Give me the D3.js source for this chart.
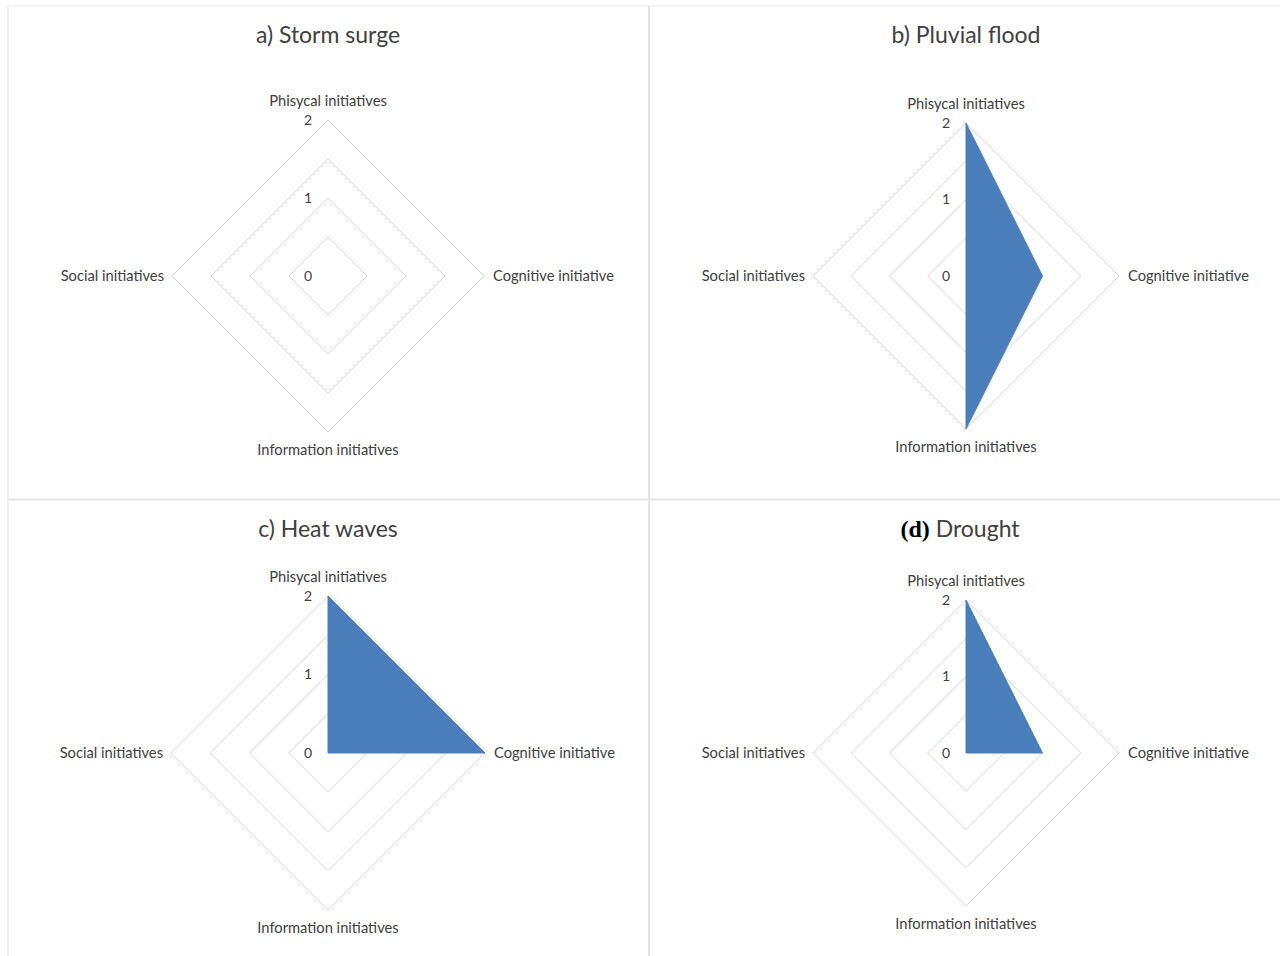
<!DOCTYPE html>
<html>
<head>
<meta charset="utf-8">
<script src="https://cdn.jsdelivr.net/npm/d3@7"></script>
<style>
  html, body { margin: 0; padding: 0; background: #fff; }
  svg { display: block; }
</style>
</head>
<body>
<svg id="chart" width="1280" height="956"></svg>
<script>
// ---- data ----
const categories = ["Phisycal initiatives", "Cognitive initiative", "Information initiatives", "Social initiatives"];
const stormSurge   = [0, 0, 0, 0];
const pluvialFlood = [2, 1, 2, 0];
const heatWaves    = [2, 2, 0, 0];
const drought      = [2, 1, 0, 0];
const gridLevels   = [0.5, 1, 1.5, 2];
const tickLabels   = [0, 1, 2];
const panelTitles  = ["a) Storm surge", "b) Pluvial flood", "c) Heat waves", "(d) Drought"];

// ---- layout ----
const svg = d3.select("#chart");
const font = "Lato, 'Open Sans', sans-serif";
const textColor = "#404040";
const fillColor = "#4a7ebb";

const panels = [
  { title: panelTitles[0], values: stormSurge,   cx: 328, cy: 276, r: 156, titleY: 35 },
  { title: panelTitles[1], values: pluvialFlood, cx: 966, cy: 276, r: 153, titleY: 35 },
  { title: panelTitles[2], values: heatWaves,    cx: 328, cy: 753, r: 157, titleY: 529 },
  { title: panelTitles[3], values: drought,      cx: 966, cy: 753, r: 153, titleY: 529 }
];

// panel borders
const borderG = svg.append("g");
borderG.append("line").attr("x1", 8).attr("x2", 8).attr("y1", 6).attr("y2", 956)
  .attr("stroke", "#eeeeee").attr("stroke-width", 1.5);
borderG.append("line").attr("x1", 8).attr("x2", 1280).attr("y1", 6).attr("y2", 6)
  .attr("stroke", "#f0f0f0").attr("stroke-width", 1.5);
borderG.append("line").attr("x1", 649).attr("x2", 649).attr("y1", 6).attr("y2", 956)
  .attr("stroke", "#e4e4e4").attr("stroke-width", 2);
borderG.append("line").attr("x1", 8).attr("x2", 1280).attr("y1", 499.5).attr("y2", 499.5)
  .attr("stroke", "#e4e4e4").attr("stroke-width", 2);

const angle = d3.scalePoint().domain(categories).range([0, 2 * Math.PI * 3 / 4]);

panels.forEach((p, pi) => {
  const g = svg.append("g").attr("transform", `translate(${p.cx},${p.cy})`);
  const rScale = d3.scaleLinear().domain([0, 2]).range([0, p.r]);

  const radial = d3.lineRadial()
    .angle(d => angle(d.cat))
    .radius(d => rScale(d.v))
    .curve(d3.curveLinearClosed);

  // grid
  g.selectAll("path.grid").data(gridLevels).join("path")
    .attr("class", "grid")
    .attr("d", lv => radial(categories.map(c => ({ cat: c, v: lv }))))
    .attr("fill", "none")
    .attr("stroke", "#d6d6d6")
    .attr("stroke-width", 1);

  // data area
  const pts = categories.map((c, i) => ({ cat: c, v: p.values[i] }));
  g.append("path")
    .attr("d", radial(pts))
    .attr("fill", fillColor)
    .attr("stroke", fillColor)
    .attr("stroke-width", 1);

  // tick labels
  g.selectAll("text.tick").data(tickLabels).join("text")
    .attr("class", "tick")
    .attr("x", -16)
    .attr("y", d => -rScale(d))
    .attr("dy", "0.35em")
    .attr("text-anchor", "end")
    .attr("font-family", font)
    .attr("font-size", 14)
    .attr("fill", textColor)
    .text(d => d);

  // category labels
  const outer = rScale(2);
  const labelPos = [
    { x: 0, y: -outer - 19, anchor: "middle" },
    { x: outer + 9, y: 0, anchor: "start" },
    { x: 0, y: outer + 18, anchor: "middle" },
    { x: -outer - 8, y: 0, anchor: "end" }
  ];
  g.selectAll("text.cat").data(categories).join("text")
    .attr("class", "cat")
    .attr("x", (d, i) => labelPos[i].x)
    .attr("y", (d, i) => labelPos[i].y)
    .attr("dy", "0.35em")
    .attr("text-anchor", (d, i) => labelPos[i].anchor)
    .attr("font-family", font)
    .attr("font-size", 14.7)
    .attr("fill", textColor)
    .text(d => d);

  // title
  const t = svg.append("text")
    .attr("x", p.cx + (pi === 3 ? -6 : 0))
    .attr("y", p.titleY)
    .attr("dy", "0.35em")
    .attr("text-anchor", "middle")
    .attr("font-family", font)
    .attr("font-size", 23)
    .attr("fill", textColor);
  if (pi === 3) {
    const m = p.title.match(/^(\(d\))\s(.*)$/);
    t.append("tspan").attr("font-family", "'Liberation Serif', 'Times New Roman', serif")
      .attr("font-weight", "bold").attr("fill", "#000").attr("font-size", 24).text(m[1]);
    t.append("tspan").text(" " + m[2]);
  } else {
    t.text(p.title);
  }
});
</script>
</body>
</html>
